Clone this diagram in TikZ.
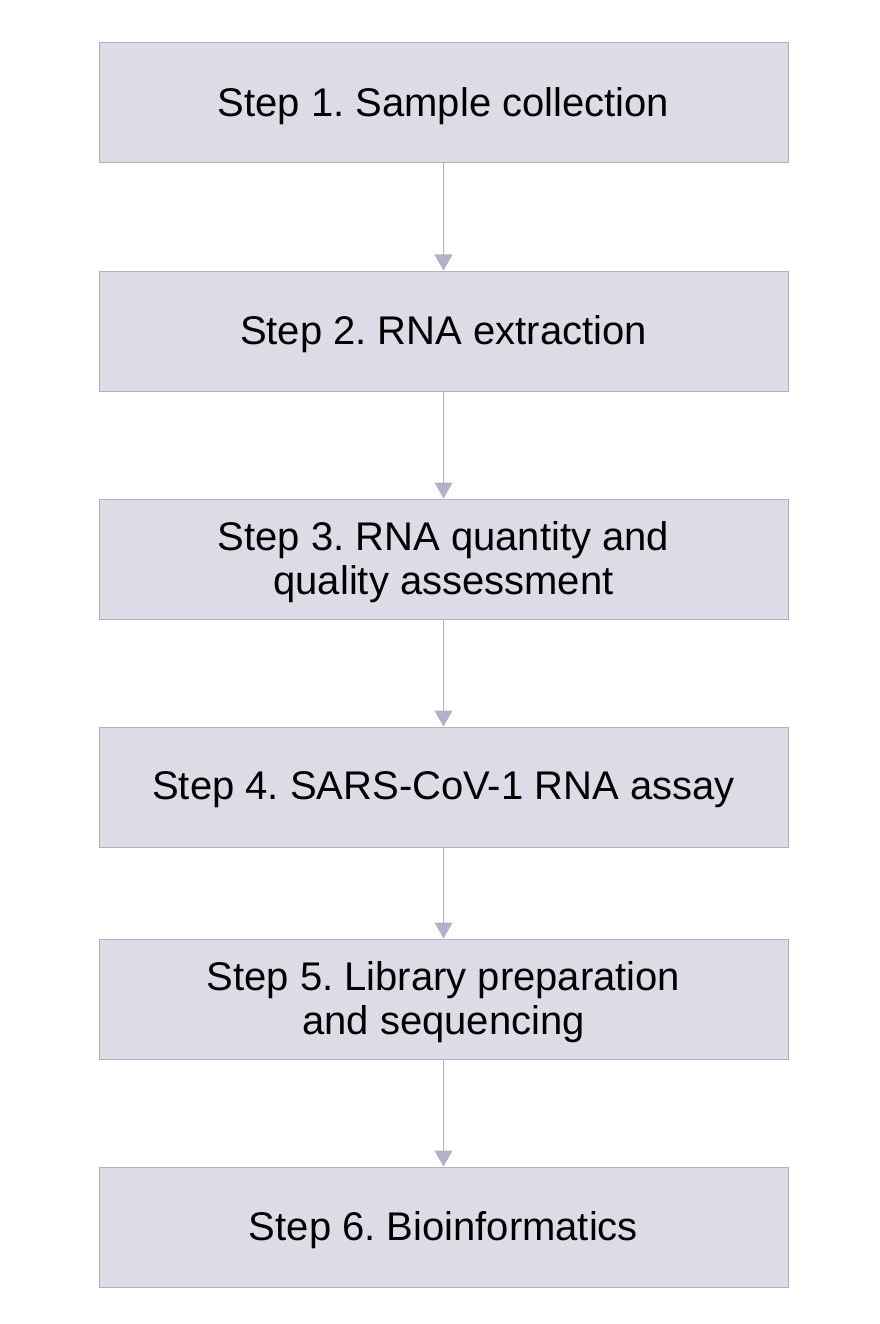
\documentclass[tikz,border=0pt]{standalone}
\usepackage{fontspec}
\setmainfont{Liberation Sans}
\frenchspacing
\usetikzlibrary{arrows.meta}
\definecolor{boxfill}{HTML}{DDDBE6}
\definecolor{boxline}{HTML}{B3AFC8}
\begin{document}
\begin{tikzpicture}[x=1pt,y=-1pt,
  stepbox/.style={draw=boxline, fill=boxfill, line width=1pt, minimum width=689pt, minimum height=120pt, inner sep=0pt},
  steptext/.style={inner sep=0pt, align=center, font=\fontsize{40}{44}\selectfont, text=black},
  conn/.style={draw=boxline, line width=1pt, -{Triangle[width=18pt,length=16pt]}}]
\useasboundingbox (0,0) rectangle (879,1324);
\node[stepbox] (s1) at (443.5,103) {};
\node[stepbox] (s2) at (443.5,331) {};
\node[stepbox] (s3) at (443.5,559) {};
\node[stepbox] (s4) at (443.5,787) {};
\node[stepbox] (s5) at (443.5,999) {};
\node[stepbox] (s6) at (443.5,1227) {};
\node[steptext] (t1) at ([yshift=-3pt]s1.center) {Step 1. Sample collection};
\node[steptext] (t2) at ([yshift=-3pt]s2.center) {Step 2. RNA extraction};
\node[steptext] (t3) at ([yshift=-3pt]s3.center) {Step 3. RNA quantity and\\quality assessment};
\node[steptext] (t4) at ([yshift=-3pt]s4.center) {Step 4. SARS-CoV-1 RNA assay};
\node[steptext] (t5) at ([yshift=-3pt]s5.center) {Step 5. Library preparation\\and sequencing};
\node[steptext] (t6) at ([yshift=-3pt]s6.center) {Step 6. Bioinformatics};
\draw[conn] (s1) -- (s2);
\draw[conn] (s2) -- (s3);
\draw[conn] (s3) -- (s4);
\draw[conn] (s4) -- (s5);
\draw[conn] (s5) -- (s6);
\end{tikzpicture}
\end{document}
